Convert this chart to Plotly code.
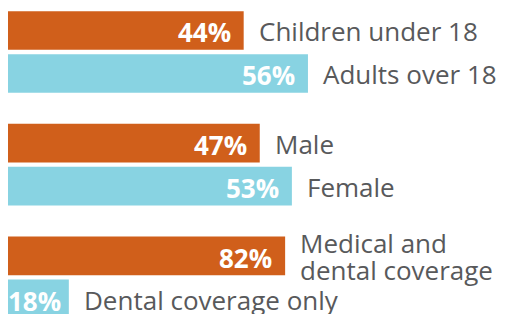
import plotly.graph_objects as go

# Data
groups = [
    ["Children under 18", "Adults over 18"],
    ["Male", "Female"],
    ["Medical and<br>dental coverage", "Dental coverage only"],
]
values = [
    [44, 56],
    [47, 53],
    [82, 18],
]
colors = ["#D05F1B", "#88D3E2"]
# x-axis maximum used for each group (each group drawn on its own scale)
group_xmax = [95.4, 95.4, 151.2]

GROUP_STEP = 2.62
BAR_W = 0.9
TEXT_GREY = "#58595B"
FONT = "Open Sans"
LINE_H = 27

fig = go.Figure()
annotations = []
for g, (labels, vals) in enumerate(zip(groups, values)):
    xa = "x" if g == 0 else f"x{g+1}"
    for i, (lab, v) in enumerate(zip(labels, vals)):
        ypos = g * GROUP_STEP + i
        fig.add_trace(go.Bar(
            x=[v], y=[ypos], orientation="h", width=BAR_W,
            marker=dict(color=colors[i], line=dict(width=0)),
            xaxis=xa, yaxis="y", showlegend=False, hoverinfo="skip",
        ))
        annotations.append(dict(
            x=v, y=ypos, xref=xa, yref="y", text=f"<b>{v}%</b>",
            showarrow=False, xanchor="right", yanchor="middle",
            xshift=-6 if v < 30 else -11, yshift=-2,
            font=dict(family=FONT, size=26, color="white"),
        ))
        lines = lab.split("<br>")
        n = len(lines)
        for k, line in enumerate(lines):
            offset = ((n - 1) / 2 - k) * LINE_H
            annotations.append(dict(
                x=v, y=ypos, xref=xa, yref="y", text=line,
                showarrow=False, xanchor="left", yanchor="middle", align="left",
                xshift=13, yshift=offset - 1,
                font=dict(family=FONT, size=26, color=TEXT_GREY),
            ))

axis_common = dict(visible=False, showgrid=False, zeroline=False, fixedrange=True)
fig.update_layout(
    width=511, height=314,
    margin=dict(l=0, r=0, t=0, b=0),
    paper_bgcolor="white", plot_bgcolor="white",
    barmode="overlay",
    xaxis=dict(range=[0, group_xmax[0]], **axis_common),
    xaxis2=dict(range=[0, group_xmax[1]], overlaying="x", **axis_common),
    xaxis3=dict(range=[0, group_xmax[2]], overlaying="x", **axis_common),
    yaxis=dict(range=[6.779, -0.523], **axis_common),
    annotations=annotations,
)

fig.write_html("out.html")
